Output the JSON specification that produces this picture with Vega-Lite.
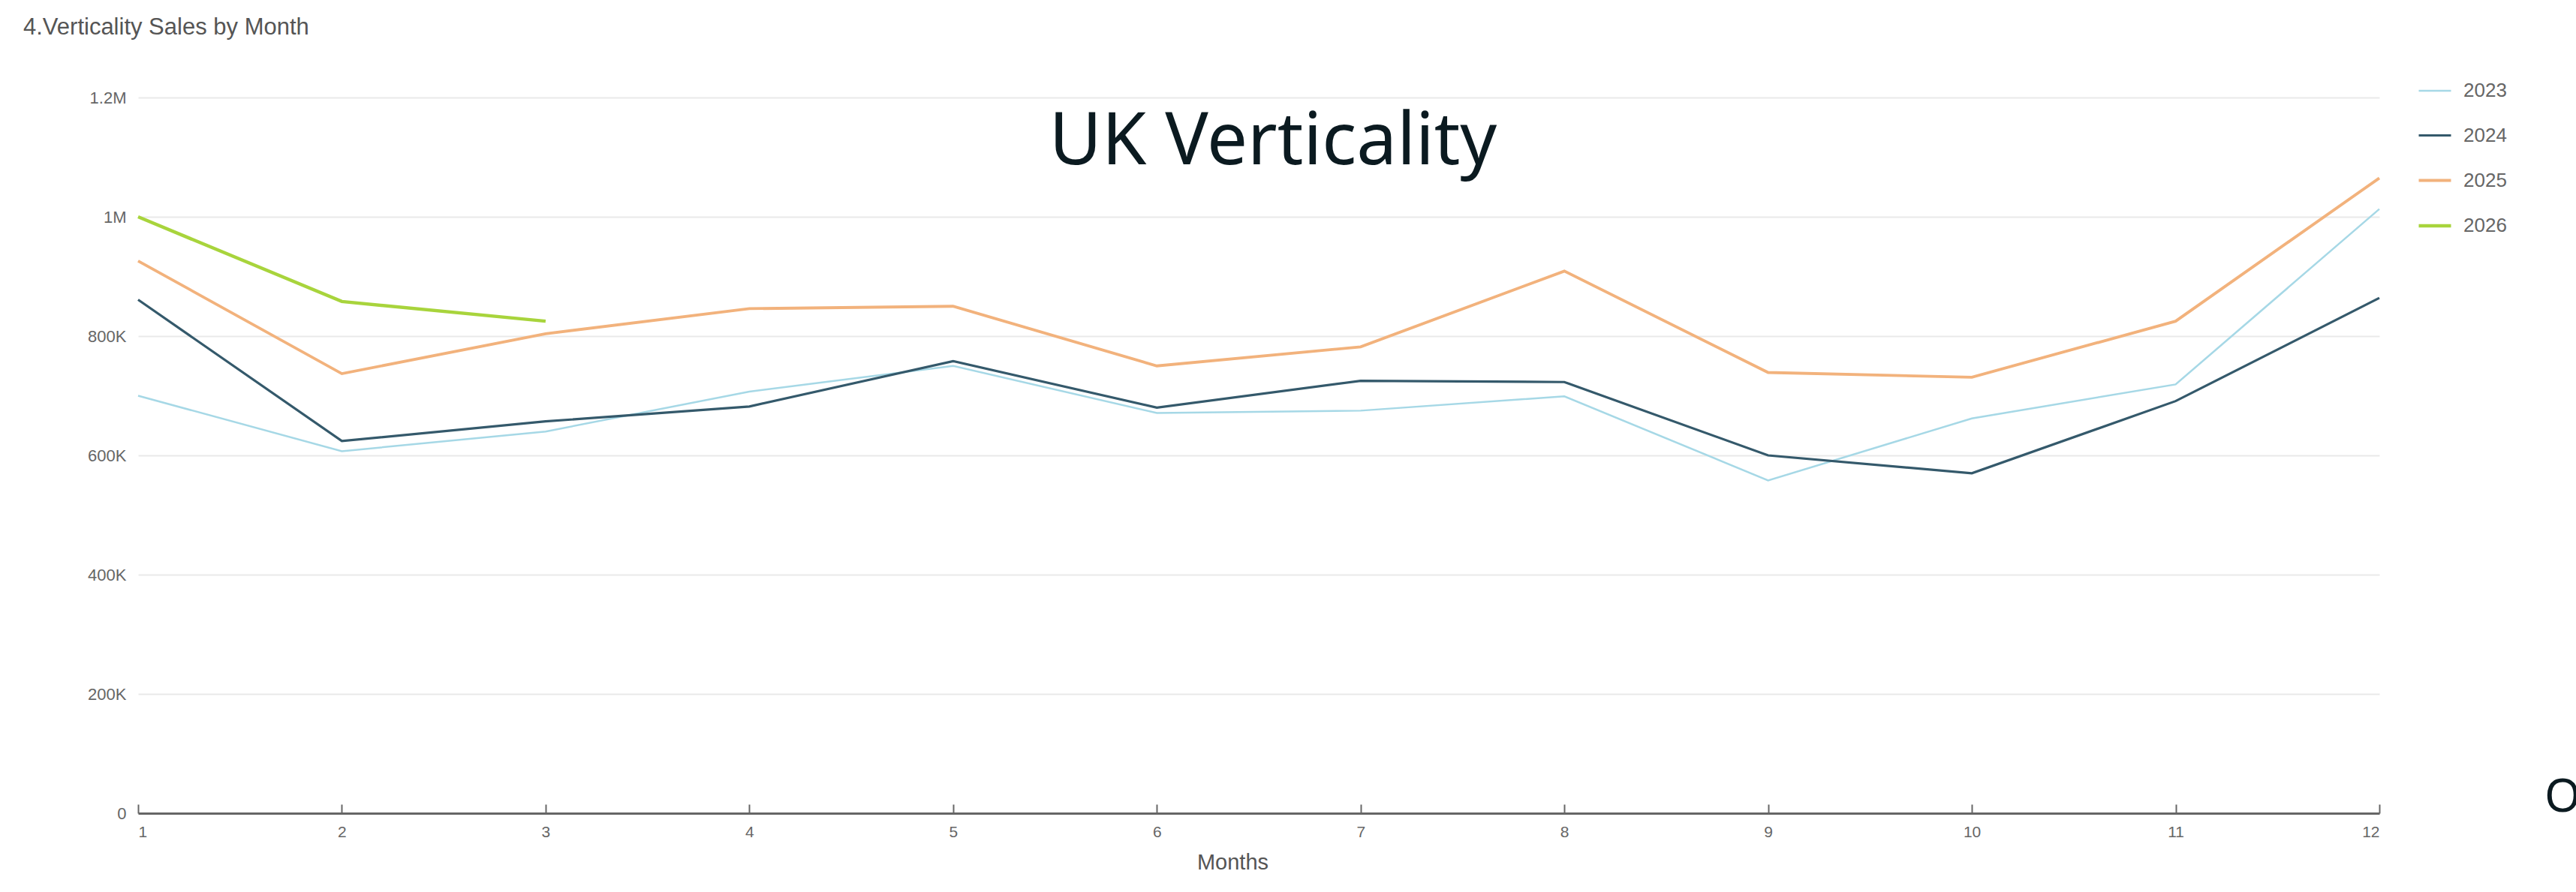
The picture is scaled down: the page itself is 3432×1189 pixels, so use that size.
{
  "$schema": "https://vega.github.io/schema/vega-lite/v6.json",
  "autosize": {"type": "none"},
  "width": 2986,
  "height": 954,
  "padding": {"left": 184, "top": 130, "right": 262, "bottom": 105},
  "background": "#ffffff",
  "title": {
    "text": "4.Verticality Sales by Month",
    "anchor": "start",
    "frame": "group",
    "dx": -153,
    "offset": 45,
    "font": "Liberation Sans",
    "fontSize": 31,
    "fontWeight": "normal",
    "color": "#555555"
  },
  "config": {
    "view": {"stroke": null},
    "font": "Liberation Sans"
  },
  "datasets": {
    "sales": [
      {"month": 1, "year": "2023", "sales": 700000},
      {"month": 2, "year": "2023", "sales": 607000},
      {"month": 3, "year": "2023", "sales": 640000},
      {"month": 4, "year": "2023", "sales": 707000},
      {"month": 5, "year": "2023", "sales": 750000},
      {"month": 6, "year": "2023", "sales": 671000},
      {"month": 7, "year": "2023", "sales": 675000},
      {"month": 8, "year": "2023", "sales": 699000},
      {"month": 9, "year": "2023", "sales": 558000},
      {"month": 10, "year": "2023", "sales": 662000},
      {"month": 11, "year": "2023", "sales": 719000},
      {"month": 12, "year": "2023", "sales": 1013000},
      {"month": 1, "year": "2024", "sales": 861000},
      {"month": 2, "year": "2024", "sales": 624000},
      {"month": 3, "year": "2024", "sales": 657000},
      {"month": 4, "year": "2024", "sales": 682000},
      {"month": 5, "year": "2024", "sales": 758000},
      {"month": 6, "year": "2024", "sales": 680000},
      {"month": 7, "year": "2024", "sales": 725000},
      {"month": 8, "year": "2024", "sales": 723000},
      {"month": 9, "year": "2024", "sales": 600000},
      {"month": 10, "year": "2024", "sales": 570000},
      {"month": 11, "year": "2024", "sales": 691000},
      {"month": 12, "year": "2024", "sales": 864000},
      {"month": 1, "year": "2025", "sales": 926000},
      {"month": 2, "year": "2025", "sales": 737000},
      {"month": 3, "year": "2025", "sales": 804000},
      {"month": 4, "year": "2025", "sales": 846000},
      {"month": 5, "year": "2025", "sales": 850000},
      {"month": 6, "year": "2025", "sales": 750000},
      {"month": 7, "year": "2025", "sales": 782000},
      {"month": 8, "year": "2025", "sales": 909000},
      {"month": 9, "year": "2025", "sales": 739000},
      {"month": 10, "year": "2025", "sales": 731000},
      {"month": 11, "year": "2025", "sales": 825000},
      {"month": 12, "year": "2025", "sales": 1065000},
      {"month": 1, "year": "2026", "sales": 1000000},
      {"month": 2, "year": "2026", "sales": 858000},
      {"month": 3, "year": "2026", "sales": 825000}
    ]
  },
  "layer": [
    {
      "data": {"name": "sales"},
      "mark": {"type": "line", "interpolate": "linear"},
      "encoding": {
        "x": {
          "field": "month",
          "type": "quantitative",
          "scale": {"domain": [1, 12], "zero": false, "nice": false},
          "axis": {
            "title": "Months",
            "values": [1, 2, 3, 4, 5, 6, 7, 8, 9, 10, 11, 12],
            "format": "d",
            "grid": false,
            "domainColor": "#666666",
            "domainWidth": 3,
            "tickColor": "#666666",
            "tickWidth": 2,
            "tickSize": -12,
            "labelPadding": 26,
            "labelFontSize": 21,
            "labelColor": "#666666",
            "titleFontSize": 29,
            "titleFontWeight": "normal",
            "titleColor": "#555555",
            "titlePadding": 16,
            "titleX": 1458
          }
        },
        "y": {
          "field": "sales",
          "type": "quantitative",
          "scale": {"domain": [0, 1200000], "nice": false},
          "axis": {
            "title": null,
            "values": [0, 200000, 400000, 600000, 800000, 1000000, 1200000],
            "labelExpr": "datum.value >= 1000000 ? format(datum.value / 1000000, '~r') + 'M' : datum.value > 0 ? format(datum.value / 1000, 'd') + 'K' : '0'",
            "domain": false,
            "ticks": false,
            "labelPadding": 16,
            "labelFontSize": 22,
            "labelColor": "#666666",
            "gridColor": "#e9e9e9",
            "gridWidth": 2
          }
        },
        "color": {
          "field": "year",
          "type": "nominal",
          "scale": {
            "domain": ["2023", "2024", "2025", "2026"],
            "range": ["#a6d8e6", "#34596b", "#f2b27c", "#a8d43c"]
          },
          "legend": {
            "title": null,
            "orient": "none",
            "legendX": 3036,
            "legendY": -32,
            "symbolType": "stroke",
            "symbolSize": 1849,
            "labelFontSize": 26,
            "labelColor": "#666666",
            "labelOffset": 14,
            "rowPadding": 23
          }
        },
        "strokeWidth": {
          "field": "year",
          "type": "nominal",
          "scale": {"domain": ["2023", "2024", "2025", "2026"], "range": [2.5, 4.5, 3, 3]}
        }
      }
    },
    {
      "data": {"values": [{"label": "UK Verticality"}]},
      "mark": {"type": "text", "align": "center", "baseline": "alphabetic", "font": "Noto Sans", "fontSize": 96, "color": "#0b1a20"},
      "encoding": {
        "x": {"datum": 6.57, "type": "quantitative"},
        "y": {"datum": 1088000, "type": "quantitative"},
        "text": {"field": "label"}
      }
    },
    {
      "data": {"values": [{"label": "O"}]},
      "mark": {"type": "text", "align": "left", "baseline": "alphabetic", "font": "Noto Sans", "fontSize": 62, "color": "#0b1a20"},
      "encoding": {
        "x": {"datum": 12.81, "type": "quantitative"},
        "y": {"datum": 2500, "type": "quantitative"},
        "text": {"field": "label"}
      }
    }
  ]
}
